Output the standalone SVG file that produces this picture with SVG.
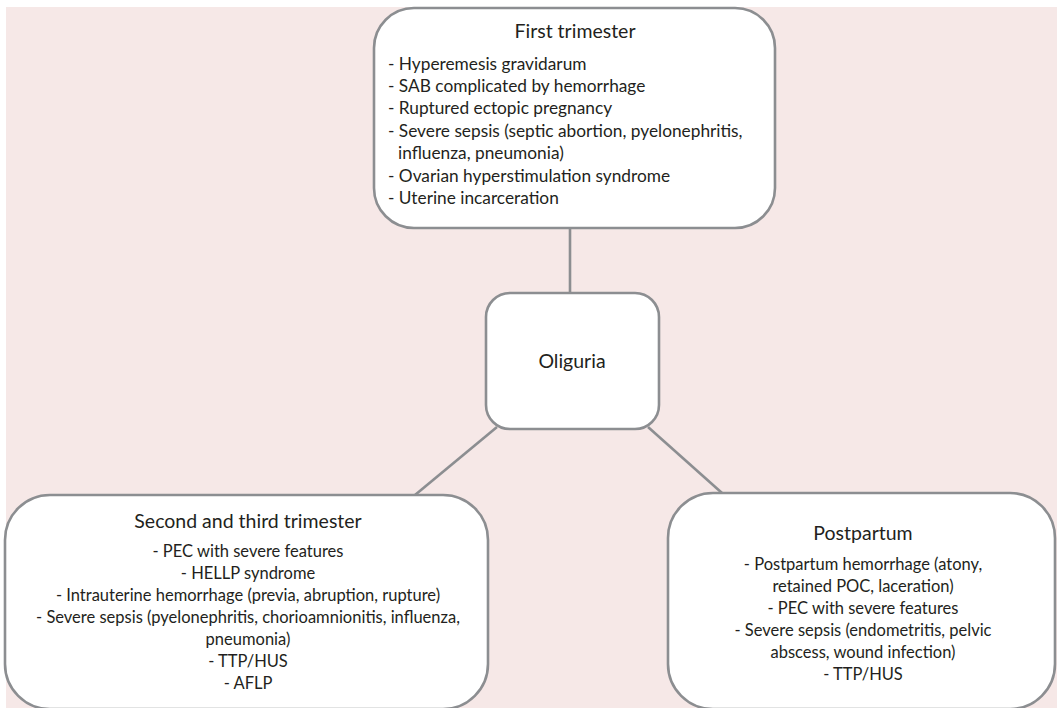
<svg xmlns="http://www.w3.org/2000/svg" width="1057" height="708" viewBox="0 0 1057 708">
  <style>
    .box { fill: #ffffff; stroke: #8c8e91; stroke-width: 2.6; }
    .link { stroke: #8c8e91; stroke-width: 2.6; fill: none; }
    text { font-family: Lato, "Liberation Sans", sans-serif; fill: #231f20; }
    .title { font-size: 19.5px; }
    .item { font-size: 16.5px; }
    .item-lg { font-size: 17.3px; }
    .mid { text-anchor: middle; }
  </style>
  <rect x="6" y="7" width="1051" height="701" fill="#f6e8e7"/>

  <g id="connectors">
    <line class="link" x1="570" y1="228" x2="570" y2="293"/>
    <line class="link" x1="497" y1="427" x2="415" y2="495"/>
    <line class="link" x1="648" y1="427" x2="722" y2="493"/>
  </g>

  <g id="first-trimester">
    <rect class="box" x="374" y="8" width="401" height="220" rx="40"/>
    <text class="title mid" x="575" y="38">First trimester</text>
    <text class="item-lg" x="388" y="70">- Hyperemesis gravidarum</text>
    <text class="item-lg" x="388" y="92">- SAB complicated by hemorrhage</text>
    <text class="item-lg" x="388" y="114">- Ruptured ectopic pregnancy</text>
    <text class="item-lg" x="388" y="136.5">- Severe sepsis (septic abortion, pyelonephritis,</text>
    <text class="item-lg" x="398" y="158.5">influenza, pneumonia)</text>
    <text class="item-lg" x="388" y="181.5">- Ovarian hyperstimulation syndrome</text>
    <text class="item-lg" x="388" y="204">- Uterine incarceration</text>
  </g>

  <g id="oliguria">
    <rect class="box" x="486" y="293" width="173" height="136" rx="24"/>
    <text class="title mid" x="572" y="368">Oliguria</text>
  </g>

  <g id="second-third-trimester">
    <rect class="box" x="5" y="495" width="483" height="214" rx="45"/>
    <text class="title mid" x="248" y="528">Second and third trimester</text>
    <text class="item mid" x="248" y="557">- PEC with severe features</text>
    <text class="item mid" x="248" y="579">- HELLP syndrome</text>
    <text class="item mid" x="248" y="601">- Intrauterine hemorrhage (previa, abruption, rupture)</text>
    <text class="item mid" x="248" y="623">- Severe sepsis (pyelonephritis, chorioamnionitis, influenza,</text>
    <text class="item mid" x="248" y="645">pneumonia)</text>
    <text class="item mid" x="248" y="667">- TTP/HUS</text>
    <text class="item mid" x="248" y="689">- AFLP</text>
  </g>

  <g id="postpartum">
    <rect class="box" x="668" y="493" width="387" height="216" rx="45"/>
    <text class="title mid" x="863" y="540">Postpartum</text>
    <text class="item mid" x="863" y="570">- Postpartum hemorrhage (atony,</text>
    <text class="item mid" x="863" y="592">retained POC, laceration)</text>
    <text class="item mid" x="863" y="614">- PEC with severe features</text>
    <text class="item mid" x="863" y="636">- Severe sepsis (endometritis, pelvic</text>
    <text class="item mid" x="863" y="658">abscess, wound infection)</text>
    <text class="item mid" x="863" y="680">- TTP/HUS</text>
  </g>
</svg>
